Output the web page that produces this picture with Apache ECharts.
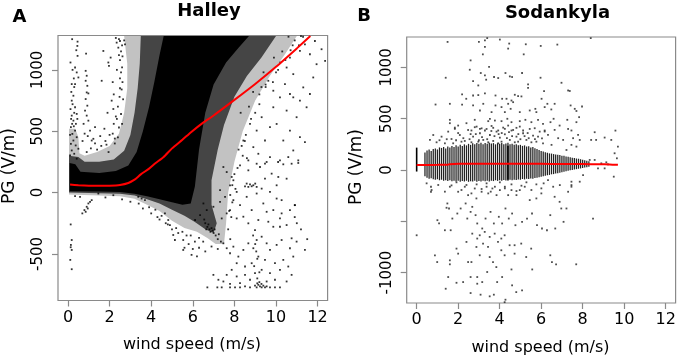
<!DOCTYPE html>
<html>
<head>
<meta charset="utf-8">
<script src="https://cdn.jsdelivr.net/npm/echarts@6/dist/echarts.min.js"></script>
<style>
  html, body {margin: 0; padding: 0; background: #fff;}
  #chart {width: 678px; height: 359px;}
</style>
</head>
<body>
<div id="chart"></div>
<script>
// ticks
var xTicks = [0, 2, 4, 6, 8, 10, 12];
var halleyYTicks = [-500, 0, 500, 1000];
var sodYTicks = [-1000, -500, 0, 500, 1000];
var sodYLabels = [-1000, 0, 500, 1000];

// Halley: density envelopes of the point cloud (light / medium / solid)
var halleyLight = [[0.05,-15],[1.5,-25],[2.5,-30],[3.2,-50],[3.8,-100],[4.4,-150],[5.0,-230],[5.6,-290],[6.2,-320],[6.7,-370],[7.1,-420],[7.5,-420],[7.6,-250],[7.7,0],[8.0,250],[8.4,500],[9.0,750],[9.7,950],[10.4,1120],[11.0,1275],[2.7,1275],[2.85,1050],[2.85,850],[2.7,650],[2.45,480],[2.0,380],[1.4,330],[0.8,300],[0.55,320],[0.5,450],[0.35,520],[0.05,520]];
var halleyMedium = [[0.05,0],[1.5,-5],[2.5,-10],[3.2,-25],[3.8,-55],[4.4,-90],[5.0,-140],[5.6,-190],[6.1,-240],[6.6,-300],[7.0,-330],[7.15,-250],[6.9,-100],[6.9,100],[7.2,350],[7.5,550],[8.0,780],[8.6,950],[9.3,1100],[10.0,1275],[3.5,1275],[3.45,1050],[3.35,850],[3.2,650],[3.0,470],[2.7,340],[2.2,270],[1.5,250],[0.8,250],[0.5,290],[0.05,300]];
var halleyCore = [[0.08,10],[1.5,8],[2.5,5],[3.2,-10],[3.8,-30],[4.4,-55],[5.0,-80],[5.5,-100],[5.9,-90],[6.1,50],[6.3,350],[6.6,650],[7.0,880],[7.6,1060],[8.2,1180],[8.7,1275],[4.6,1275],[4.4,1120],[4.15,900],[3.9,700],[3.6,500],[3.3,330],[2.9,220],[2.3,175],[1.5,160],[0.6,170],[0.35,230],[0.08,240]];

// Halley: individual points outside the dense cloud
var halleyDots = [
  [0.46,1230],[0.45,1195],[0.46,1114],[0.34,1019],[0.42,979],[0.5,938],[0.34,884],[0.18,884],[0.26,789],[0.18,749],[0.34,695],[0.42,641],[0.18,627],[0.26,586],[0.14,533],[0.34,505],[0.21,478],[0.42,451],[0.26,424],[0.14,397],[0.37,384],[0.5,357],[0.18,343],[0.3,316],[0.1,303],[0.42,276],
  [0.12,680],[0.22,720],[0.3,650],[0.15,600],[0.38,560],[0.28,540],[0.1,470],[0.2,560],[0.45,600],[0.16,820],[0.28,930],[0.12,1060],[0.4,1160],[0.2,1250],[0.3,860],[0.22,1000],
  [0.85,992],[0.9,952],[0.85,911],[0.93,870],[0.9,816],[0.98,808],[0.85,762],[0.93,708],[0.82,668],[0.9,627],[0.87,1133],[0.98,586],[1.06,505],[1.14,424],[1.3,533],[1.22,438],[0.75,560],[0.8,480],[0.7,420],[0.95,460],
  [1.7,1154],[1.94,1060],[1.97,1033],[1.62,911],[2.1,749],[2.18,681],[2.5,1235],[2.34,1222],[2.74,1208],[2.42,1181],
  [2.3,1260],[2.45,1120],[2.55,980],[2.5,850],[2.4,700],[2.2,560],[2.0,470],[1.8,420],[1.6,380],[1.4,350],[2.35,1000],[2.6,1200],[2.65,760],[2.3,620],[2.15,900],[2.05,1100],[1.9,650],[1.75,520],[1.55,460],[1.3,400],[1.1,360],[0.9,330],[2.6,560],[2.55,640],[2.62,900],[2.5,1080],[2.2,800],[2.4,450],[1.95,330],[2.25,400],
  [2.55,1150],[2.45,1250],[2.6,1020],[2.5,930],[2.48,780],[2.35,600],[2.15,480],[1.85,390],[2.62,1110],[2.7,1240],[2.58,840],[2.45,530],[2.25,440],
  [0.13,-260],[0.18,-387],[0.14,-427],[0.13,-446],[0.18,-468],[0.11,-549],[0.18,-625],[0.69,-170],[0.79,-143],[0.9,-116],[0.98,-89],[1.06,-76],[1.14,-62],[0.85,-157],[0.95,-130],[0.58,-35],[0.34,-30],[1.46,-8],[2.18,-22],[3.38,-35],[3.54,-49],[3.7,-62],[4.66,-170],[4.82,-224],[4.9,-265],[5.06,-346],[5.14,-387],[5.54,-387],[5.54,-468],[5.94,-508],
  [3.9,-120],[4.2,-140],[4.5,-190],[5.0,-300],[5.3,-330],[4.7,-250],[5.7,-350],[6.1,-400],[6.3,-450],[4.4,-220],
  [1.8,-40],[2.6,-55],[3.0,-75],[3.4,-90],[3.6,-130],[4.0,-170],[4.3,-200],[4.8,-260],[5.2,-290],[5.5,-320],[5.9,-350],[6.3,-370],[6.5,-400],[6.9,-440],[7.2,-460],[5.8,-420],[6.0,-460],[6.6,-480],[6.2,-520],[5.6,-450],
  [9.07,235],[9.55,249],[10.1,249],[10.35,230],[10.75,235],[11.07,241],[8.27,222],[8.67,181],[7.63,167],[7.47,208],[9.79,154],[10.11,127],[9.47,113],[10.51,113],[9.23,208],[7.87,127],
  [8.59,73],[8.75,67],[8.91,59],[8.67,46],[8.83,51],[9.0,73],[8.51,51],[9.07,46],
  [7.79,59],[7.31,19],[8.11,5],[7.55,-35],[7.95,-62],[8.27,-103],[8.59,-35],[9.07,-8],[9.31,32],[9.71,5],[10.03,59],[10.27,-62],[10.27,-170],[10.19,-211],[9.87,-143],[9.55,-157],[9.39,-89],[8.83,-143],[8.43,-197],[8.67,-251],[8.99,-306],[8.11,-211],[7.79,-143],[10.67,-143],[10.91,-103],[10.03,-49],[9.15,-224],[9.63,-238],[9.87,-279],[10.19,-279],[10.51,-265],[7.31,-76],[6.99,-116],[7.63,-170],[7.39,-211],[6.51,-89],[6.67,-143],[6.35,-184],[6.11,-224],
  [7.47,-414],[7.63,-454],[7.95,-441],[7.79,-495],[8.19,-522],[8.43,-468],[8.67,-414],[8.91,-454],[9.07,-387],[9.31,-360],[9.55,-414],[9.71,-468],[10.03,-427],[10.27,-387],[10.75,-373],[10.99,-400],[11.39,-468],[10.67,-454],[10.83,-522],[10.35,-549],[9.95,-576],[9.47,-549],[9.15,-522],[8.83,-576],[8.51,-603],[8.11,-576],[7.87,-630],[7.63,-671],[7.47,-725],[8.11,-684],[8.51,-671],[8.99,-657],[9.31,-630],[9.71,-657],[10.19,-630],[10.59,-603],[10.75,-671],[10.51,-725],[9.95,-711],[9.55,-725],[8.75,-711],[8.27,-738],[7.79,-744],[7.23,-711],[6.99,-671],
  [7.18,-773],[7.39,-773],[7.79,-773],[8.03,-773],[8.27,-773],[8.51,-765],[8.75,-773],[8.99,-759],[9.07,-773],[9.15,-752],[9.23,-765],[9.31,-773],[9.39,-759],[9.47,-773],[9.55,-765],[9.71,-773],[9.95,-773],[10.19,-773],[6.7,-773],[9.1,-740],[9.3,-745],[9.2,-730],
  [6.6,-250],[6.7,-280],[6.8,-300],[6.85,-320],[6.9,-290],[7.0,-330],[7.1,-350],[7.2,-380],[6.75,-260],[6.95,-310],[7.05,-300],[6.65,-300],[7.25,-340],[7.35,-400],[6.55,-220],
  [8.9,-350],[9.0,-420],[9.05,-480],[9.1,-540],[8.95,-600],[9.2,-650],[9.1,-700],[11.5,-380],[11.2,-300],[11.0,-250],[10.9,-200],[10.9,-103],
  [11.15,1154],[11.39,1208],[11.63,1127],[11.87,1235],[11.95,1046],[12.19,1168],[12.36,1073],[11.79,938],[11.63,803],[11.31,857],[11.47,695],[11.15,749],[10.99,614],[10.67,505],[11.15,451],[10.83,343],[11.39,411],[10.35,424],[10.03,559],[10.51,668],[10.19,776],[10.67,803],[9.87,695],[9.71,533],[9.47,424],[9.15,316],[9.71,289],[10.19,262],[10.59,289],[11.07,262],[9.07,505],[9.31,614],[8.91,370],[8.67,262],[9.47,235],[8.43,424],[9.87,830],[9.63,911],[10.43,884],[10.83,965],[10.51,1019],[10.83,776],[10.67,1100],
  [8.2,350],[8.5,420],[8.8,600],[9.2,720],[9.5,860],[10.0,980],[10.2,1060],[10.8,1200],[11.3,1270],[8.0,150],[7.9,60],[8.3,650],[8.9,820],[9.4,980],[10.3,1150],[10.9,1240],[8.6,280],[7.8,-20],[7.85,-200],[7.7,-300],
  [7.8,-380],[7.75,-150],[7.9,-80],[7.95,100],[8.15,200],[8.35,380],[8.55,470],[8.75,560],[9.0,650],[9.2,800],[9.5,880],[9.85,900],[10.1,1000],[10.45,1080],[10.7,1160],[11.1,1200],[11.2,1275],[8.4,300],[8.05,30],[8.7,700],[9.3,860],[9.9,1100],[10.6,1270]
];

// Halley smoothed fit (red)
var halleyFit = [[0.1,65],[0.5,60],[1,56],[1.5,55],[2,56],[2.5,62],[2.9,78],[3.2,105],[3.5,148],[3.9,195],[4.2,238],[4.6,290],[5,360],[5.5,430],[5.9,490],[6.5,570],[7,628],[8,755],[9,885],[10,1025],[11,1175],[11.65,1275]];

// Sodankyla: wind speed is binned at 0.1 m/s, the core of each bin is a vertical stripe
var sodColX = [0.4,0.5,0.6,0.7,0.8,0.9,1.0,1.1,1.2,1.3,1.4,1.5,1.6,1.7,1.8,1.9,2.0,2.1,2.2,2.3,2.4,2.5,2.6,2.7,2.8,2.9,3.0,3.1,3.2,3.3,3.4,3.5,3.6,3.7,3.8,3.9,4.0,4.1,4.2,4.3,4.4,4.5,4.6,4.7,4.8,4.9,5.0,5.1,5.2,5.3,5.4,5.5,5.6,5.7,5.8,5.9,6.0,6.1,6.2,6.3,6.4,6.5,6.6,6.7,6.8,6.9,7.0,7.1,7.2,7.3,7.4,7.5,7.6,7.7,7.8,7.9,8.0,8.1,8.2,8.3];
var sodColTop = [170,190,200,185,205,210,200,220,215,225,210,230,220,235,225,240,230,245,235,250,240,255,245,260,250,262,255,265,250,262,255,265,258,262,250,260,255,262,250,258,265,250,255,245,250,240,245,235,240,228,232,220,225,212,205,195,185,180,172,168,162,160,155,150,148,145,140,138,132,130,125,120,118,112,110,105,100,95,90,85];
var sodColBottom = [-60,-75,-85,-80,-90,-95,-90,-100,-95,-105,-100,-108,-100,-110,-105,-112,-105,-115,-108,-112,-105,-115,-110,-112,-105,-115,-108,-112,-105,-110,-104,-112,-105,-108,-100,-106,-100,-104,-98,-102,-105,-96,-100,-94,-98,-92,-95,-88,-92,-85,-88,-82,-85,-78,-75,-70,-65,-60,-55,-50,-48,-42,-40,-35,-32,-28,-22,-18,-12,-8,-3,0,5,8,12,15,20,24,28,32];
var sodDarkCols = [[0, -15, 218], [4.4, -95, 237]];

var sodDots = [
  [1.49,1248],[3.0,1248],[3.29,1264],[3.4,1285],[4.01,1271],[4.46,1232],[5.26,1225],[5.98,1209],[6.78,1222],[8.39,1285],[3.29,1199],[4.41,1183],[3.19,1127],[5.16,1127],[2.6,1068],[2.56,977],[3.49,1004],[1.4,899],[3.09,945],[3.29,923],[2.72,867],[3.73,906],[3.93,896],[4.28,945],[4.49,912],[4.6,906],[5.08,945],[5.97,899],[3.35,880],[2.97,824],[5.37,834],[5.37,801],[6.98,850],[7.3,775],[7.38,770],[6.14,769],
  [2.19,736],[2.39,694],[2.72,726],[2.97,730],[3.29,746],[3.8,726],[4.12,694],[4.73,733],[4.89,720],[5.05,717],[4.33,694],[4.57,677],[0.91,638],[1.6,645],[2.19,638],[2.72,629],[3.21,645],[3.8,629],[4.41,645],[4.65,661],[6.02,694],[6.3,645],[6.65,645],[7.42,629],[7.97,619],[7.62,596],[7.83,515],[7.7,575],
  [3.05,580],[3.61,564],[4.09,613],[4.25,564],[4.53,596],[4.97,564],[5.45,580],[5.72,596],[5.77,564],[6.17,613],[6.49,590],[1.6,489],[1.6,456],[2.0,433],[2.4,456],[2.8,489],[3.45,476],[3.53,499],[3.77,482],[4.09,476],[4.37,499],[4.57,466],[4.97,476],[5.24,489],[5.53,466],[5.85,489],[6.09,450],[6.45,466],[6.6,499],[6.89,433],[7.26,489],[7.7,466],
  [1.84,401],[2.64,385],[2.8,417],[3.05,401],[3.29,385],[3.69,411],[3.93,385],[4.25,401],[4.57,385],[4.81,411],[5.13,385],[5.69,407],[6.17,385],[7.46,385],[8.58,368],[9.58,384],
  [9.06,316],[9.38,293],[8.41,293],[8.65,293],[9.7,228],[9.54,163],[9.65,114],[8.34,98],[8.58,98],[8.9,65],[9.22,55],[9.14,75],[8.74,16],[9.06,16],[9.5,-65],[8.02,-49],[7.46,-147],[7.46,-114],[6.9,-147],[6.58,-163],[7.86,-114],[6.12,-130],[6.33,-98],[7.54,310],[7.46,245],[7.7,228],[7.86,293],[7.78,342],[7.06,293],[7.22,195],[6.5,245],[6.82,310],[6.17,375],[6.33,342],[6.65,391],[7.3,400],[6.09,260],
  [0.64,293],[0.8,341],[1.2,325],[1.52,374],[1.68,302],[1.84,413],[2.08,341],[2.32,283],[2.48,390],[2.72,325],[2.89,423],[3.05,358],[3.21,293],[3.37,400],[3.53,341],[3.69,283],[3.85,374],[4.01,315],[4.17,413],[4.25,348],[4.49,293],[4.65,390],[4.81,325],[4.97,423],[5.13,358],[5.29,293],[5.45,400],[5.61,335],[5.77,276],[5.93,374],[6.04,309],
  [2.16,276],[2.64,270],[3.45,270],[3.93,260],[4.73,270],[5.53,270],[1.76,260],[1.36,260],[0.96,270],[3.13,406],[3.61,429],[4.41,433],[2.97,276],[4.09,276],[4.89,276],[5.85,325],
  [1.1,290],[1.45,300],[1.9,290],[2.25,310],[2.55,300],[2.85,350],[3.15,320],[3.4,300],[3.75,330],[3.95,350],[4.35,310],[4.6,330],[5.0,300],[5.2,330],[5.4,310],[5.7,300],[2.0,360],[2.6,350],[3.0,290],[3.6,380],[4.1,360],[4.9,350],[5.35,360],[4.45,370],
  [0.48,-130],[0.72,-195],[1.04,-146],[1.36,-211],[1.6,-163],[1.92,-120],[2.16,-195],[2.4,-146],[2.64,-228],[2.89,-140],[3.13,-185],[3.37,-130],[3.57,-211],[3.77,-163],[4.01,-120],[4.25,-179],[4.57,-140],[4.81,-205],[5.05,-153],[5.29,-120],[5.53,-195],[5.77,-140],[6.01,-179],
  [0.69,-163],[0.69,-212],[1.68,-150],[2.0,-212],[2.32,-163],[2.48,-245],[2.8,-180],[2.88,-277],[3.13,-212],[3.37,-163],[3.45,-228],[3.65,-180],[3.85,-245],[4.01,-196],[4.25,-163],[4.41,-245],[4.57,-196],[4.81,-245],[4.97,-196],[5.21,-163],[5.45,-293],[5.77,-277],[6.01,-228],[6.65,-261],[6.89,-310],[6.97,-375],[7.22,-375],[7.3,-212],[7.46,-163],
  [1.48,-326],[1.56,-375],[1.44,-368],[1.0,-489],[1.08,-521],[1.36,-587],[1.64,-587],[1.72,-473],[1.96,-424],[2.12,-375],[2.36,-326],[2.44,-473],[2.6,-408],[2.68,-359],[2.84,-440],[2.92,-521],[3.16,-570],[3.32,-473],[3.56,-408],[3.72,-521],[3.96,-456],[4.12,-521],[4.28,-375],[4.44,-473],[4.6,-424],[4.76,-538],[5.08,-505],[5.32,-473],[5.56,-424],[5.8,-538],[6.04,-570],[6.28,-587],[6.44,-440],[6.68,-570],[7.08,-505],[8.5,-473],
  [0.0,-636],[0.88,-831],[0.99,-897],[1.6,-880],[1.6,-919],[1.92,-766],[2.0,-815],[2.4,-701],[2.48,-897],[2.64,-897],[2.88,-750],[3.04,-831],[3.2,-717],[3.44,-750],[3.52,-848],[3.68,-897],[3.84,-946],[3.92,-701],[4.08,-782],[4.24,-831],[4.48,-733],[4.72,-733],[4.72,-815],[5.04,-717],[5.28,-848],[5.52,-766],[5.57,-969],[6.44,-831],[6.52,-897],[6.72,-919],[7.69,-919],
  [1.52,-1043],[1.92,-1099],[2.24,-1092],[2.6,-1043],[2.92,-1043],[2.92,-1108],[3.16,-1092],[3.4,-994],[3.88,-1092],[4.12,-1043],[4.57,-969],[4.6,-1124],[4.8,-1190],[5.08,-1173],[1.4,-1157],[2.6,-1199],[3.08,-1215],[3.52,-1231],[3.72,-1215],[4.24,-1288],[4.28,-1264],
  [2.68,-620],[3.04,-636],[3.28,-603],[3.52,-652],[2.92,-668],[3.76,-620],[4.08,-668],[4.24,-636]
];

var sodFit = [[0,48],[0.5,49],[1,50],[1.5,52],[1.6,57],[2,60],[3,61],[4,61],[5,60],[6,60],[7,59],[8,58],[8.8,56],[9.3,54],[9.7,50]];

var sodCols = sodColX.map(function (x, i) { return [x, sodColBottom[i], sodColTop[i]]; });

var font = 'DejaVu Sans';
var boxColor = '#8a8a8a';

function plainNum(v) { return String(v); }

function xAxisFor(gi) {
  return {
    type: 'value', gridIndex: gi, min: -0.48, max: 12.48,
    axisLine: {show: false, onZero: false}, splitLine: {show: false},
    axisTick: {show: true, inside: false, length: 6, customValues: xTicks, lineStyle: {color: boxColor, width: 1.2}},
    axisLabel: {customValues: xTicks, formatter: plainNum, color: '#000', fontFamily: font, fontSize: 16, margin: 9}
  };
}

function yAxisFor(gi, min, max, ticks, labels) {
  return {
    type: 'value', gridIndex: gi, min: min, max: max,
    axisLine: {show: false, onZero: false}, splitLine: {show: false},
    axisTick: {show: true, inside: false, length: 6, customValues: ticks, lineStyle: {color: boxColor, width: 1.2}},
    axisLabel: {customValues: labels, formatter: plainNum, rotate: 90, color: '#000', fontFamily: font, fontSize: 15, margin: 12}
  };
}

function polySeries(gi, pts, color) {
  return {
    type: 'custom', xAxisIndex: gi, yAxisIndex: gi, data: pts, silent: true,
    renderItem: function (params, api) {
      if (params.dataIndex !== 0) return;
      return {
        type: 'polygon',
        shape: {points: pts.map(function (p) { return api.coord(p); })},
        style: {fill: color}
      };
    }
  };
}

function stripeSeries(gi, data, color, width) {
  return {
    type: 'custom', xAxisIndex: gi, yAxisIndex: gi, data: data, silent: true,
    encode: {x: 0, y: [1, 2]},
    renderItem: function (params, api) {
      var a = api.coord([api.value(0), api.value(1)]);
      var b = api.coord([api.value(0), api.value(2)]);
      return {
        type: 'line',
        shape: {x1: a[0], y1: a[1], x2: b[0], y2: b[1]},
        style: {stroke: color, lineWidth: width}
      };
    }
  };
}

function txt(text, x, y, size, bold, rot) {
  return {
    type: 'text', x: x, y: y, rotation: rot || 0, silent: true,
    style: {
      text: text, fill: '#000', textAlign: 'center', textVerticalAlign: 'middle',
      font: (bold ? 'bold ' : '') + size + 'px "' + font + '"'
    }
  };
}

var myChart = echarts.init(document.getElementById('chart'), null, {renderer: 'canvas'});

var option = {
  animation: false,
  backgroundColor: '#fff',
  grid: [
    {left: 58, top: 35.5, width: 269.6, height: 265, show: true, borderColor: boxColor, borderWidth: 1.2, containLabel: false, outerBoundsMode: 'none'},
    {left: 406.7, top: 37, width: 268.9, height: 266, show: true, borderColor: boxColor, borderWidth: 1.2, containLabel: false, outerBoundsMode: 'none'}
  ],
  xAxis: [xAxisFor(0), xAxisFor(1)],
  yAxis: [
    yAxisFor(0, -880, 1280, halleyYTicks, halleyYTicks),
    yAxisFor(1, -1296, 1296, sodYTicks, sodYLabels)
  ],
  series: [
    polySeries(0, halleyLight, '#c2c2c2'),
    polySeries(0, halleyMedium, '#454545'),
    polySeries(0, halleyCore, '#000'),
    {
      type: 'scatter', xAxisIndex: 0, yAxisIndex: 0, data: halleyDots, silent: true,
      symbol: 'rect', symbolSize: 1.8, itemStyle: {color: '#000'}
    },
    {
      type: 'line', xAxisIndex: 0, yAxisIndex: 0, data: halleyFit, silent: true,
      showSymbol: false, smooth: 0.2, lineStyle: {color: '#ff0000', width: 2}
    },
    stripeSeries(1, sodCols, '#222', 1.25),
    stripeSeries(1, sodDarkCols, '#000', 1.6),
    {
      type: 'scatter', xAxisIndex: 1, yAxisIndex: 1, data: sodDots, silent: true,
      symbol: 'rect', symbolSize: 1.8, itemStyle: {color: '#222'}
    },
    {
      type: 'line', xAxisIndex: 1, yAxisIndex: 1, data: sodFit, silent: true,
      showSymbol: false, smooth: 0.2, lineStyle: {color: '#ff0000', width: 2}
    }
  ],
  graphic: [
    txt('A', 19.5, 17, 18, true),
    txt('Halley', 209, 11.5, 18, true),
    txt('B', 364, 16, 18, true),
    txt('Sodankyla', 557.5, 13.5, 18, true),
    txt('wind speed (m/s)', 192, 345, 16, false),
    txt('wind speed (m/s)', 540.5, 348, 16, false),
    txt('PG (V/m)', 9.5, 166, 17, false, Math.PI / 2),
    txt('PG (V/m)', 357, 167, 17, false, Math.PI / 2)
  ]
};

myChart.setOption(option);
</script>
</body>
</html>
